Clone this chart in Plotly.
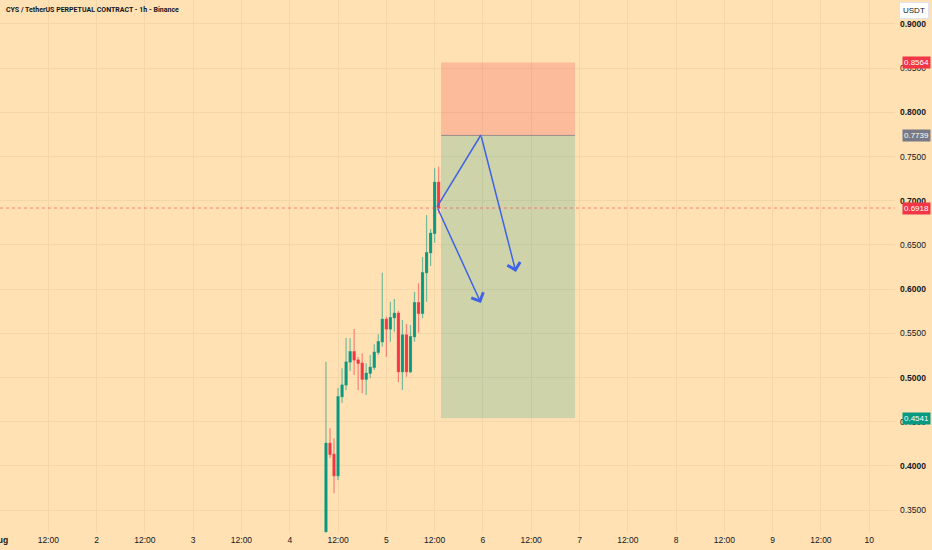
import pandas as pd
import plotly.graph_objects as go

# hourly candles, CYS/USDT perp (Binance)
times = pd.date_range("2025-08-04 09:00", periods=29, freq="h")
opens = [0.3257, 0.4257, 0.4132, 0.3890, 0.4784, 0.4916, 0.5176, 0.5293, 0.5199, 0.5162,
         0.4981, 0.5049, 0.5116, 0.5286, 0.5406, 0.5659, 0.5550, 0.5678, 0.5727, 0.5067,
         0.5482, 0.5067, 0.5463, 0.5847, 0.5727, 0.6187, 0.6413, 0.6632, 0.7209]
highs = [0.5180, 0.4426, 0.4313, 0.4882, 0.5105, 0.5448, 0.5444, 0.5550, 0.5233, 0.5275,
         0.5162, 0.5256, 0.5377, 0.5490, 0.6187, 0.5689, 0.5859, 0.5889, 0.5753, 0.5652,
         0.5606, 0.5595, 0.5972, 0.6067, 0.6364, 0.6839, 0.6681, 0.7368, 0.7386]
lows = [0.3248, 0.4090, 0.3691, 0.3842, 0.4713, 0.4860, 0.5075, 0.5029, 0.4860, 0.4822,
        0.4803, 0.4992, 0.5086, 0.5256, 0.5350, 0.5236, 0.5406, 0.5519, 0.4947, 0.4860,
        0.5010, 0.5049, 0.5406, 0.5508, 0.5671, 0.5859, 0.6262, 0.6526, 0.6859]
closes = [0.4257, 0.4132, 0.3890, 0.4784, 0.4916, 0.5176, 0.5293, 0.5199, 0.5162, 0.4981,
          0.5049, 0.5116, 0.5286, 0.5406, 0.5659, 0.5550, 0.5678, 0.5727, 0.5067, 0.5482,
          0.5067, 0.5463, 0.5847, 0.5727, 0.6187, 0.6413, 0.6632, 0.7209, 0.6918]

last_price = 0.6918
entry = 0.7739
stop = 0.8564
target = 0.4541
pos_start = "2025-08-05 13:36"
pos_end = "2025-08-06 22:54"

# drawn arrows: path points (time, price)
arrow_start = ("2025-08-05 12:36", 0.6930)
arrow_mid = ("2025-08-05 23:30", 0.7744)
arrow_end1 = ("2025-08-06 08:12", 0.6195)
arrow_end2 = ("2025-08-05 23:30", 0.5844)

x_tickvals = list(range(0, 217, 12))
x_ticktext = ["<b>Aug</b>", "12:00", "2", "12:00", "3", "12:00", "4", "12:00", "5", "12:00",
              "6", "12:00", "7", "12:00", "8", "12:00", "9", "12:00", "10"]
y_tickvals = [0.35, 0.40, 0.45, 0.50, 0.55, 0.60, 0.65, 0.70, 0.75, 0.80, 0.85, 0.90]
y_ticktext = ["0.3500", "<b>0.4000</b>", "0.4500", "<b>0.5000</b>", "0.5500", "<b>0.6000</b>",
              "0.6500", "<b>0.7000</b>", "0.7500", "<b>0.8000</b>", "0.8500", "<b>0.9000</b>"]

t0 = pd.Timestamp("2025-08-01 00:00")


def hrs(t):
    return (pd.Timestamp(t) - t0) / pd.Timedelta(hours=1)


xh = [hrs(t) for t in times]
body_hi = [max(o, c) for o, c in zip(opens, closes)]
body_lo = [min(o, c) for o, c in zip(opens, closes)]

GREEN = "#089981"
RED = "#F23645"
BLUE = "#3f63e6"
BG = "#FFE1B4"
GRID = "#F3D6AA"
FONT = "Liberation Sans"

fig = go.Figure()

# wicks (lighter)
fig.add_trace(go.Candlestick(
    x=xh, open=opens, high=highs, low=lows, close=closes,
    increasing=dict(line=dict(color="rgba(8,153,129,0.55)", width=1.2), fillcolor="rgba(8,153,129,0.55)"),
    decreasing=dict(line=dict(color="rgba(242,54,69,0.55)", width=1.2), fillcolor="rgba(242,54,69,0.55)"),
    whiskerwidth=0, showlegend=False, hoverinfo="skip",
))
# solid bodies
fig.add_trace(go.Candlestick(
    x=xh, open=opens, high=body_hi, low=body_lo, close=closes,
    increasing=dict(line=dict(color=GREEN, width=0.5), fillcolor=GREEN),
    decreasing=dict(line=dict(color=RED, width=0.5), fillcolor=RED),
    whiskerwidth=0, showlegend=False,
))

# position tool boxes
fig.add_shape(type="rect", x0=hrs(pos_start), x1=hrs(pos_end), y0=entry, y1=stop,
              fillcolor="rgba(242,54,69,0.22)", line_width=0, layer="above")
fig.add_shape(type="rect", x0=hrs(pos_start), x1=hrs(pos_end), y0=target, y1=entry,
              fillcolor="rgba(8,153,129,0.2)", line_width=0, layer="above")
fig.add_shape(type="line", x0=hrs(pos_start), x1=hrs(pos_end), y0=entry, y1=entry,
              line=dict(color="rgba(120,123,134,0.7)", width=1))

# last price line
fig.add_shape(type="line", xref="paper", x0=0, x1=1, y0=last_price, y1=last_price,
              line=dict(color="rgba(242,54,69,0.55)", width=1, dash="dot"))

# blue arrows
fig.add_shape(type="line", x0=hrs(arrow_start[0]), y0=arrow_start[1],
              x1=hrs(arrow_mid[0]), y1=arrow_mid[1], line=dict(color=BLUE, width=1.5))
for tail, head in [(arrow_mid, arrow_end1), (arrow_start, arrow_end2)]:
    fig.add_annotation(x=hrs(head[0]), y=head[1], ax=hrs(tail[0]), ay=tail[1],
                       xref="x", yref="y", axref="x", ayref="y", text="",
                       showarrow=True, arrowhead=4, arrowsize=1.7, arrowwidth=1.5,
                       arrowcolor=BLUE)

# price labels on the right axis
for price, col in [(stop, RED), (entry, "#787B86"), (last_price, RED), (target, GREEN)]:
    fig.add_annotation(x=1, xref="paper", y=price, yref="y", xanchor="left", xshift=7,
                       text=f"{price:.4f}", showarrow=False, bgcolor=col, borderpad=1,
                       font=dict(family=FONT, size=8, color="white"))

fig.add_annotation(x=1, xref="paper", y=1, yref="paper", xanchor="left", yanchor="top",
                   xshift=4, yshift=-2, text="USDT", showarrow=False, bgcolor="white",
                   bordercolor="#E0E3EB", borderwidth=1, borderpad=3,
                   font=dict(family=FONT, size=8, color="#131722"))

fig.add_annotation(x=0, xref="paper", y=1, yref="paper", xanchor="left", yanchor="top",
                   xshift=4, yshift=-4, text="<b>CYS / TetherUS PERPETUAL CONTRACT - 1h - Binance</b>",
                   showarrow=False, font=dict(family="Roboto", size=7, color="#131722"))

fig.update_layout(
    width=932, height=550,
    margin=dict(l=0, r=37, t=0, b=17),
    paper_bgcolor=BG, plot_bgcolor=BG,
    font=dict(family=FONT, size=8.5, color="#131722"),
    xaxis=dict(range=[0, 222.4], tickvals=x_tickvals, ticktext=x_ticktext,
               showgrid=True, gridcolor=GRID, gridwidth=1, zeroline=False,
               rangeslider=dict(visible=False), ticks="", ticklabeloverflow="allow",
               showline=False, fixedrange=True, automargin=False),
    yaxis=dict(range=[0.3242, 0.9271], side="right", tickvals=y_tickvals, ticktext=y_ticktext,
               showgrid=True, gridcolor=GRID, gridwidth=1, zeroline=False, ticks="",
               ticklabelstandoff=4, showline=False, automargin=False),
    showlegend=False,
)

fig.write_html("out.html", config={"displayModeBar": False},
               post_script="document.body.style.margin='0';"
                           "document.body.style.overflow='hidden';")
